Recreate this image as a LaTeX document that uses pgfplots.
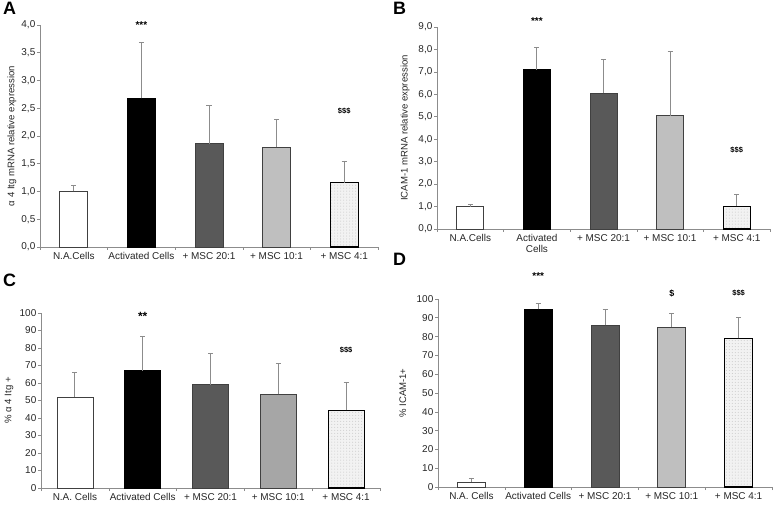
\documentclass[border=0pt]{standalone}
\usepackage{fontspec}
\setmainfont{Liberation Sans}
\usepackage{pgfplots}
\pgfplotsset{compat=1.18}
\usetikzlibrary{patterns}

\definecolor{axgray}{HTML}{8C8C8C}
\definecolor{dkbar}{HTML}{595959}
\definecolor{ltbar}{HTML}{BFBFBF}
\definecolor{mdbar}{HTML}{A6A6A6}
\definecolor{edge}{HTML}{404040}

\tikzset{
  sig/.style={font=\bfseries\fontsize{10}{10}\selectfont},
  sigd/.style={font=\bfseries\fontsize{7.5}{8}\selectfont},
  plab/.style={font=\bfseries\fontsize{18}{18}\selectfont, anchor=north west, inner sep=0pt},
}

\pgfplotsset{
  panel/.style={
    scale only axis,
    anchor=south west,
    ybar, bar shift=0pt,
    xmin=-0.5, xmax=4.5, ymin=0,
    axis lines*=left,
    axis line style={axgray, line width=0.7pt},
    xtick={0,...,4},
    major x tick style={draw=none},
    minor xtick={-0.5,0.5,1.5,2.5,3.5,4.5},
    minor tick length=3bp,
    major tick length=3bp,
    tick align=outside,
    tick style={axgray, line width=0.6pt},
    ytick style={axgray, line width=0.6pt},
    /pgf/number format/assume math mode=true,
    tick label style={font=\fontsize{10}{11.5}\selectfont, text=black!85},
    yticklabel style={inner sep=1.5pt},
    ylabel style={font=\fontsize{9.6}{11}\selectfont, text=black!85, anchor=center},
    xticklabel style={align=center, inner sep=2pt},
    enlargelimits=false,
    clip=false,
    error bars/y dir=plus,
    error bars/y explicit,
    error bars/error bar style={axgray, line width=0.9pt},
    error bars/error mark options={rotate=90, axgray, mark size=2.5bp, line width=0.9pt},
  },
  commafmt/.style={yticklabel style={/pgf/number format/.cd, use comma, fixed, fixed zerofill, precision=1}},
  b1/.style={fill=white, draw=edge, line width=0.7pt},
  b2/.style={fill=black, draw=black, line width=0.7pt},
  b3/.style={fill=dkbar, draw=edge, line width=0.7pt},
  b4/.style={fill=ltbar, draw=edge, line width=0.7pt},
  b4c/.style={fill=mdbar, draw=edge, line width=0.7pt},
  b5/.style={fill=gray!10, draw=black, line width=1.1pt,
    postaction={pattern=dots, pattern color=gray!45}},
}

\begin{document}
\begin{tikzpicture}
\path[use as bounding box] (0bp,0bp) rectangle (778bp,505bp);

% A
\node[plab] at (3bp,503bp) {A};
\begin{axis}[panel, commafmt, at={(40bp,258bp)}, width=338bp, height=222bp,
  ymax=4.0, ytick distance=0.5, bar width=28bp,
  xticklabels={N.A.Cells, Activated Cells, + MSC 20:1, + MSC 10:1, + MSC 4:1},
  ylabel={α 4 Itg mRNA relative expression}, ylabel style={at={(axis description cs:-0.083,0.5)}}]
\addplot[b1] coordinates {(0,1.00) +- (0,0.10)};
\addplot[b2] coordinates {(1,2.68) +- (0,1.00)};
\addplot[b3] coordinates {(2,1.86) +- (0,0.69)};
\addplot[b4] coordinates {(3,1.80) +- (0,0.50)};
\addplot[b5] coordinates {(4,1.16) +- (0,0.39)};
\node[sig] at (axis cs:1,4.0) {***};
\node[sigd] at (axis cs:4,2.45) {\$\$\$};
\end{axis}

% B
\node[plab] at (393bp,503bp) {B};
\begin{axis}[panel, commafmt, at={(437bp,276bp)}, width=333bp, height=202bp,
  ymax=9.0, ytick distance=1, bar width=27bp,
  xticklabels={N.A.Cells, {Activated\\Cells}, + MSC 20:1, + MSC 10:1, + MSC 4:1},
  ylabel={ICAM-1 mRNA relative expression}, ylabel style={at={(axis description cs:-0.096,0.5)}}]
\addplot[b1] coordinates {(0,1.00) +- (0,0.08)};
\addplot[b2] coordinates {(1,7.10) +- (0,1.00)};
\addplot[b3] coordinates {(2,6.05) +- (0,1.50)};
\addplot[b4] coordinates {(3,5.05) +- (0,2.87)};
\addplot[b5] coordinates {(4,1.02) +- (0,0.53)};
\node[sig] at (axis cs:1,9.25) {***};
\node[sigd] at (axis cs:4,3.5) {\$\$\$};
\end{axis}

% C
\node[plab] at (3bp,231bp) {C};
\begin{axis}[panel, at={(41bp,17bp)}, width=339bp, height=175bp,
  ymax=100, ytick distance=10, bar width=36bp,
  xticklabels={N.A. Cells, Activated Cells, + MSC 20:1, + MSC 10:1, + MSC 4:1},
  ylabel={\% α 4 Itg +}, ylabel style={at={(axis description cs:-0.094,0.5)}}]
\addplot[b1] coordinates {(0,52.0) +- (0,14.0)};
\addplot[b2] coordinates {(1,67.0) +- (0,19.5)};
\addplot[b3] coordinates {(2,59.0) +- (0,18.0)};
\addplot[b4c] coordinates {(3,53.5) +- (0,17.5)};
\addplot[b5] coordinates {(4,44.5) +- (0,16.0)};
\node[font=\bfseries\fontsize{12}{12}\selectfont] at (axis cs:1,98) {**};
\node[sigd] at (axis cs:4,79) {\$\$\$};
\end{axis}

% D
\node[plab] at (393bp,252bp) {D};
\begin{axis}[panel, at={(438bp,18bp)}, width=334bp, height=188bp,
  ymax=100, ytick distance=10, bar width=28bp,
  xticklabels={N.A. Cells, Activated Cells, + MSC 20:1, + MSC 10:1, + MSC 4:1},
  ylabel={\% ICAM-1+}, ylabel style={at={(axis description cs:-0.105,0.5)}}]
\addplot[b1] coordinates {(0,2.7) +- (0,2.1)};
\addplot[b2] coordinates {(1,94.5) +- (0,3.0)};
\addplot[b3] coordinates {(2,86.0) +- (0,8.5)};
\addplot[b4] coordinates {(3,85.0) +- (0,7.5)};
\addplot[b5] coordinates {(4,79.0) +- (0,11.0)};
\node[sig] at (axis cs:1,112) {***};
\node[font=\bfseries\fontsize{9}{9}\selectfont] at (axis cs:3,103) {\$};
\node[sigd] at (axis cs:4,103) {\$\$\$};
\end{axis}
\end{tikzpicture}
\end{document}
